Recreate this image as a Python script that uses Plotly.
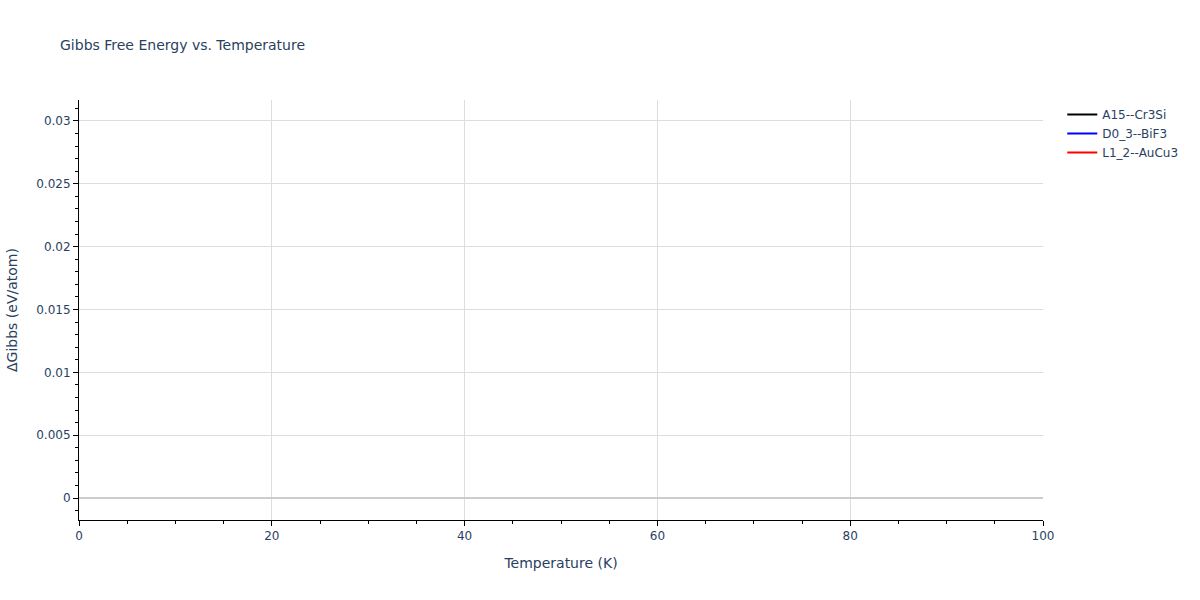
import plotly.graph_objects as go

# Series: no data values are visible inside the reference plot area
phases = ["A15--Cr3Si", "D0_3--BiF3", "L1_2--AuCu3"]
colors = ["black", "blue", "red"]
temperatures = [0, 100]
delta_gibbs = {
    "A15--Cr3Si": [None, None],
    "D0_3--BiF3": [None, None],
    "L1_2--AuCu3": [None, None],
}

fig = go.Figure()
for p, c in zip(phases, colors):
    fig.add_trace(go.Scatter(x=temperatures, y=delta_gibbs[p], mode="lines",
                             name=p, line=dict(color=c, width=2)))

fig.update_layout(
    width=1200, height=600,
    title=dict(text="Gibbs Free Energy vs. Temperature", font=dict(size=14)),
    plot_bgcolor="white", paper_bgcolor="white",
    font=dict(family="DejaVu Sans, Verdana, sans-serif", size=12, color="#2a3f5f"),
    showlegend=True,
    margin=dict(l=79, r=157, t=100, b=80),
)
fig.update_xaxes(
    title_text="Temperature (K)", range=[0, 100], dtick=20,
    showline=True, linecolor="black", linewidth=1,
    ticks="outside", tickcolor="black", ticklen=5,
    minor=dict(ticks="outside", dtick=5, tickcolor="black", ticklen=3),
    showgrid=True, gridcolor="#dddddd", zeroline=False,
)
fig.update_yaxes(
    title_text="ΔGibbs (eV/atom)", range=[-0.00175, 0.03167], dtick=0.005,
    showline=True, linecolor="black", linewidth=1,
    ticks="outside", tickcolor="black", ticklen=5,
    minor=dict(ticks="outside", dtick=0.001, tickcolor="black", ticklen=3),
    showgrid=True, gridcolor="#dddddd",
    zeroline=True, zerolinecolor="#cccccc", zerolinewidth=2,
)
fig.write_html("out.html", config={"displayModeBar": False},
               post_script="document.body.style.margin='0';")
